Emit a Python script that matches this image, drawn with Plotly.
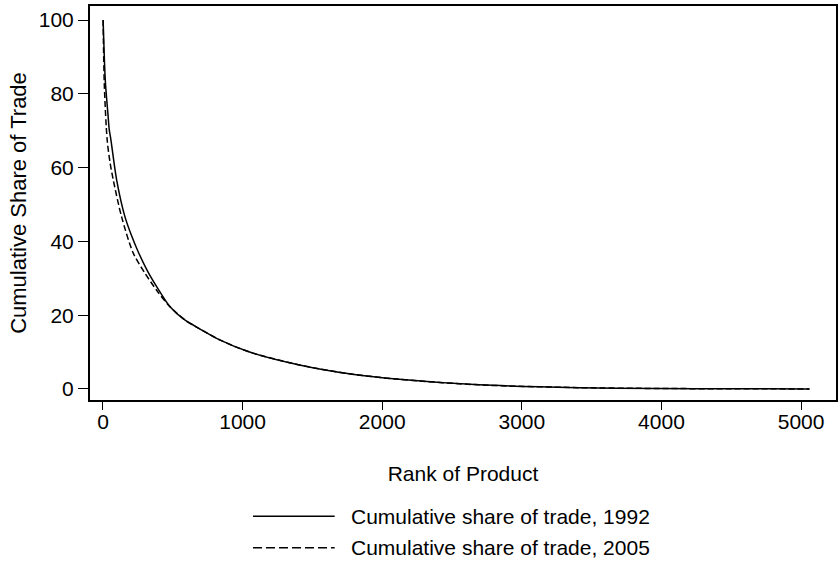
import plotly.graph_objects as go

# Cumulative share of trade (%) by product rank
rank_1992 = [1, 17, 36, 45, 55, 98, 157, 205, 252, 324, 400, 480, 586, 693, 836,
             1050, 1407, 1764, 2121, 2693, 3407, 3979, 4500, 5060]
share_1992 = [100, 83.3, 74.3, 70.2, 68.0, 56.6, 46.7, 41.5, 37.2, 31.6, 26.8,
              22.3, 18.7, 16.3, 13.3, 10.0, 6.5, 4.1, 2.6, 1.1, 0.35, 0.12, 0.05, 0.0]

rank_2005 = [1, 10, 30, 50, 74, 133, 217, 300, 383, 470, 586, 693, 836,
             1050, 1407, 1764, 2121, 2693, 3407, 3979, 4500, 5060]
share_2005 = [100, 82.0, 67.5, 61.5, 56.6, 46.7, 36.8, 31.4, 26.8, 22.7, 18.7,
              16.3, 13.3, 10.0, 6.5, 4.1, 2.6, 1.1, 0.35, 0.12, 0.05, 0.0]

x_ticks = [0, 1000, 2000, 3000, 4000, 5000]
y_ticks = [0, 20, 40, 60, 80, 100]

series_names = ["Cumulative share of trade, 1992", "Cumulative share of trade, 2005"]
series_dash = ["solid", "6px,3px"]
legend_dash = ["solid", "9px,4px"]

FONT = "Liberation Sans, Arial, Helvetica, sans-serif"

fig = go.Figure()
fig.add_trace(go.Scatter(x=rank_2005, y=share_2005, mode="lines", name=series_names[1],
                         line=dict(color="black", width=1.5, dash=series_dash[1],
                                   shape="spline", smoothing=0.8),
                         showlegend=False))
fig.add_trace(go.Scatter(x=rank_1992, y=share_1992, mode="lines", name=series_names[0],
                         line=dict(color="black", width=1.5, dash=series_dash[0],
                                   shape="spline", smoothing=0.8),
                         showlegend=False))

# Legend drawn below the axis title: sample line + label per series
for i, name in enumerate(series_names):
    yy = -0.295 - i * 0.08
    fig.add_shape(type="line", xref="paper", yref="paper",
                  x0=0.2185, x1=0.328, y0=yy, y1=yy,
                  line=dict(color="black", width=1.3, dash=legend_dash[i]))
    fig.add_annotation(xref="paper", yref="paper", x=0.347, y=yy, text=name,
                       showarrow=False, xanchor="left", yanchor="middle",
                       font=dict(family=FONT, size=21, color="black"))

fig.update_layout(
    width=840, height=562,
    margin=dict(l=90, r=2, t=6, b=162),
    paper_bgcolor="white", plot_bgcolor="white",
    font=dict(family=FONT, size=21, color="black"),
    showlegend=False,
)
fig.update_xaxes(
    range=[-93, 5250], tickvals=x_ticks, ticktext=[str(v) for v in x_ticks],
    ticks="outside", ticklen=8, tickwidth=1.3, tickcolor="black",
    ticklabelstandoff=-6,
    showline=True, linecolor="black", linewidth=2, mirror=True,
    showgrid=False, zeroline=False,
    title=dict(text="Rank of Product", standoff=34, font=dict(size=21)),
)
fig.update_yaxes(
    range=[-3.0, 103.8], tickvals=y_ticks, ticktext=[str(v) for v in y_ticks],
    ticks="outside", ticklen=10, tickwidth=1.3, tickcolor="black",
    showline=True, linecolor="black", linewidth=2, mirror=True,
    showgrid=False, zeroline=False,
    title=dict(text="Cumulative Share of Trade", standoff=6, font=dict(size=22)),
)

fig.write_html("out.html")
